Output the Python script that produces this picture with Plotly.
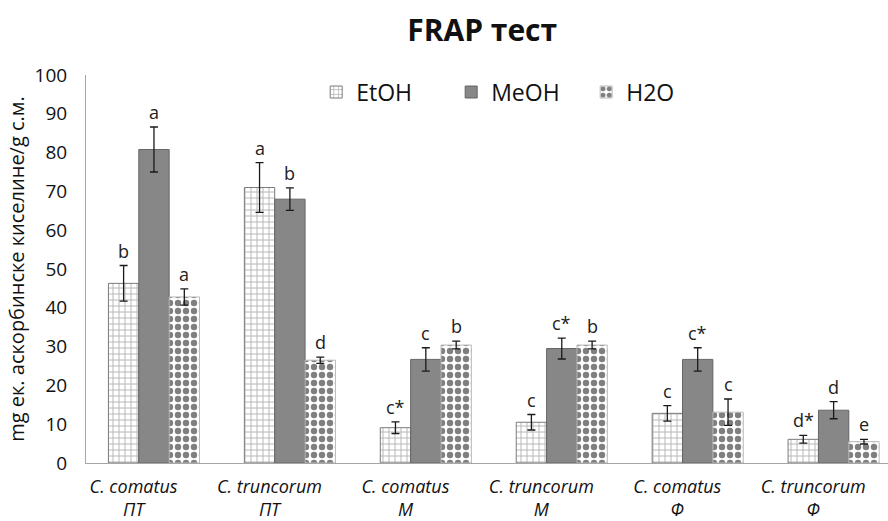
import plotly.graph_objects as go

categories = ["<i>C. comatus</i><br><i>ПТ</i>", "<i>C. truncorum</i><br><i>ПТ</i>",
              "<i>C. comatus</i><br><i>М</i>", "<i>C. truncorum</i><br><i>М</i>",
              "<i>C. comatus</i><br><i>Ф</i>", "<i>C. truncorum</i><br><i>Ф</i>"]
etoh = [46.3, 71.0, 9.1, 10.5, 12.8, 6.1]
etoh_err = [4.6, 6.4, 1.5, 2.0, 2.0, 1.0]
meoh = [80.8, 68.0, 26.7, 29.5, 26.7, 13.6]
meoh_err = [5.8, 2.9, 3.0, 2.7, 3.0, 2.2]
h2o = [42.8, 26.5, 30.4, 30.4, 13.1, 5.5]
h2o_err = [2.1, 0.8, 1.0, 1.0, 3.4, 0.6]
etoh_lbl = ["b", "a", "c*", "c", "c", "d*"]
meoh_lbl = ["a", "b", "c", "c*", "c*", "d"]
h2o_lbl = ["a", "d", "b", "b", "c", "e"]

xs = list(range(len(categories)))
FONT = "Open Sans"
bargap = 0.33
bw = (1 - bargap) / 3
label_shift = -0.15  # tick labels sit slightly left of the bar groups

fig = go.Figure()
err_style = dict(type="data", color="#1a1a1a", thickness=1.3, width=4, visible=True)

fig.add_bar(name="EtOH", x=xs, y=etoh,
            error_y=dict(array=etoh_err, **err_style),
            marker=dict(color="white", line=dict(color="#7a7a7a", width=1),
                        pattern=dict(shape="+", fgcolor="#6e6e6e", bgcolor="white",
                                     size=6, solidity=0.3)))
fig.add_bar(name="MeOH", x=xs, y=meoh,
            error_y=dict(array=meoh_err, **err_style),
            marker=dict(color="#878787", line=dict(color="#666666", width=1)))
fig.add_bar(name="H2O", x=xs, y=h2o,
            error_y=dict(array=h2o_err, **err_style),
            marker=dict(color="white", line=dict(color="#bbbbbb", width=1),
                        pattern=dict(shape=".", fgcolor="black", bgcolor="white",
                                     size=8, solidity=0.5)))

for vals, errs, lbls, off in [(etoh, etoh_err, etoh_lbl, -bw),
                              (meoh, meoh_err, meoh_lbl, 0),
                              (h2o, h2o_err, h2o_lbl, bw)]:
    for i, (v, e, l) in enumerate(zip(vals, errs, lbls)):
        fig.add_annotation(x=i + off, y=v + e, text=l, showarrow=False,
                           yanchor="bottom", yshift=1,
                           font=dict(family=FONT, size=18, color="#222"))

fig.update_layout(
    width=888, height=521,
    margin=dict(l=86, r=0, t=75, b=58),
    paper_bgcolor="white", plot_bgcolor="white",
    barmode="group", bargap=bargap, bargroupgap=0,
    title=dict(text="<b>FRAP тест</b>", x=0.543, xanchor="center", y=0.942,
               yanchor="middle", font=dict(family=FONT, size=30, color="#111")),
    legend=dict(orientation="h", x=0.287, xanchor="left", y=0.956, yanchor="middle",
                font=dict(family=FONT, size=23, color="#111"),
                itemwidth=30, entrywidth=90, entrywidthmode="pixels",
                bgcolor="rgba(0,0,0,0)"),
    showlegend=True,
    font=dict(family=FONT),
)
fig.update_xaxes(tickmode="array", tickvals=[x + label_shift for x in xs],
                 ticktext=categories, automargin=False,
                 range=[-0.5, 5.4], showline=True, linecolor="#a6a6a6", linewidth=1,
                 ticks="", showgrid=False, zeroline=False, ticklabelstandoff=7,
                 tickfont=dict(family=FONT, size=18, color="#111"))
fig.update_yaxes(range=[0, 100], dtick=10, showline=True, linecolor="#a6a6a6",
                 linewidth=1, ticks="", showgrid=False, zeroline=False, automargin=False,
                 ticklabelstandoff=14,
                 tickfont=dict(family=FONT, size=19, color="#111"),
                 title=dict(text="mg ек. аскорбинске киселине/g с.м.", standoff=4,
                            font=dict(family=FONT, size=20, color="#111")))

fig.write_html("out.html")
